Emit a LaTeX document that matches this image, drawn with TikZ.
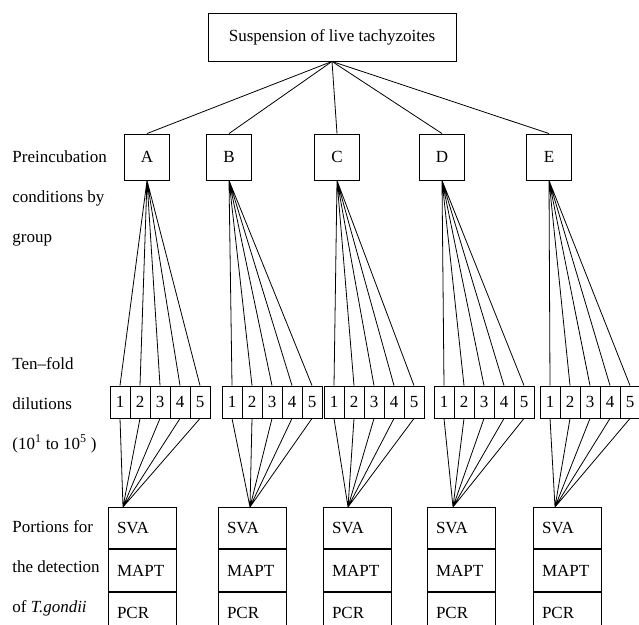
\documentclass[tikz,border=0pt]{standalone}
\usepackage{fontspec}
\setmainfont{Liberation Serif}
\usepackage{tikz}
\usetikzlibrary{positioning}
\tikzstyle{grp}= [draw, line width=0.9pt, inner sep=0pt, minimum width=45pt, minimum height=46pt]
\tikzstyle{cel}= [draw, line width=0.9pt, inner sep=0pt, minimum width=20pt, minimum height=32pt]
\tikzstyle{por}= [draw, line width=0.9pt, inner xsep=9pt, inner ysep=0pt, text width=50pt, minimum height=41.5pt, align=left]
\tikzstyle{lab}= [anchor=west, inner sep=0pt, align=left, font=\fontsize{17}{40}\selectfont]

\begin{document}
\begin{tikzpicture}[x=1pt, y=1pt, line width=0.8pt, font=\fontsize{17}{20}\selectfont]
				\useasboundingbox (0,0) rectangle (639,624);
				\node[draw, line width=0.9pt, minimum width=248pt, minimum height=48pt] (top) at (332, 587) {Suspension of live tachyzoites};
				\node[grp] (gA) at (147, 467) {A};
				\node[grp] (gB) at (229, 467) {B};
				\node[grp] (gC) at (337, 467) {C};
				\node[grp] (gD) at (442, 467) {D};
				\node[grp] (gE) at (549, 467) {E};
				\draw (top.south) -- (gA.north);
				\draw (top.south) -- (gB.north);
				\draw (top.south) -- (gC.north);
				\draw (top.south) -- (gD.north);
				\draw (top.south) -- (gE.north);
				% ten-fold dilutions
				\node[cel] (dA1) at (120, 222) {1};
				\node[cel] (dA2) at (140, 222) {2};
				\node[cel] (dA3) at (160, 222) {3};
				\node[cel] (dA4) at (180, 222) {4};
				\node[cel] (dA5) at (200, 222) {5};
				\node[cel] (dB1) at (232, 222) {1};
				\node[cel] (dB2) at (252, 222) {2};
				\node[cel] (dB3) at (272, 222) {3};
				\node[cel] (dB4) at (292, 222) {4};
				\node[cel] (dB5) at (312, 222) {5};
				\node[cel] (dC1) at (334, 222) {1};
				\node[cel] (dC2) at (354, 222) {2};
				\node[cel] (dC3) at (374, 222) {3};
				\node[cel] (dC4) at (394, 222) {4};
				\node[cel] (dC5) at (414, 222) {5};
				\node[cel] (dD1) at (444, 222) {1};
				\node[cel] (dD2) at (464, 222) {2};
				\node[cel] (dD3) at (484, 222) {3};
				\node[cel] (dD4) at (504, 222) {4};
				\node[cel] (dD5) at (524, 222) {5};
				\node[cel] (dE1) at (550, 222) {1};
				\node[cel] (dE2) at (570, 222) {2};
				\node[cel] (dE3) at (590, 222) {3};
				\node[cel] (dE4) at (610, 222) {4};
				\node[cel] (dE5) at (630, 222) {5};
				\draw (gA.south) -- (dA1.north) (gA.south) -- (dA2.north) (gA.south) -- (dA3.north) (gA.south) -- (dA4.north) (gA.south) -- (dA5.north);
				\draw (gB.south) -- (dB1.north) (gB.south) -- (dB2.north) (gB.south) -- (dB3.north) (gB.south) -- (dB4.north) (gB.south) -- (dB5.north);
				\draw (gC.south) -- (dC1.north) (gC.south) -- (dC2.north) (gC.south) -- (dC3.north) (gC.south) -- (dC4.north) (gC.south) -- (dC5.north);
				\draw (gD.south) -- (dD1.north) (gD.south) -- (dD2.north) (gD.south) -- (dD3.north) (gD.south) -- (dD4.north) (gD.south) -- (dD5.north);
				\draw (gE.south) -- (dE1.north) (gE.south) -- (dE2.north) (gE.south) -- (dE3.north) (gE.south) -- (dE4.north) (gE.south) -- (dE5.north);
				% portions
				\node[por] (pA1) at (142, 96) {SVA};
				\node[por, below=0pt of pA1] (pA2) {MAPT};
				\node[por, below=0pt of pA2] (pA3) {PCR};
				\node[por] (pB1) at (252, 96) {SVA};
				\node[por, below=0pt of pB1] (pB2) {MAPT};
				\node[por, below=0pt of pB2] (pB3) {PCR};
				\node[por] (pC1) at (357, 96) {SVA};
				\node[por, below=0pt of pC1] (pC2) {MAPT};
				\node[por, below=0pt of pC2] (pC3) {PCR};
				\node[por] (pD1) at (461, 96) {SVA};
				\node[por, below=0pt of pD1] (pD2) {MAPT};
				\node[por, below=0pt of pD2] (pD3) {PCR};
				\node[por] (pE1) at (567, 96) {SVA};
				\node[por, below=0pt of pE1] (pE2) {MAPT};
				\node[por, below=0pt of pE2] (pE3) {PCR};
				\coordinate (fA) at (123, 117);
				\coordinate (fB) at (250, 117);
				\coordinate (fC) at (348, 117);
				\coordinate (fD) at (453, 117);
				\coordinate (fE) at (555, 117);
				\draw (dA1.south) -- (fA) (dA2.south) -- (fA) (dA3.south) -- (fA) (dA4.south) -- (fA) (dA5.south) -- (fA);
				\draw (dB1.south) -- (fB) (dB2.south) -- (fB) (dB3.south) -- (fB) (dB4.south) -- (fB) (dB5.south) -- (fB);
				\draw (dC1.south) -- (fC) (dC2.south) -- (fC) (dC3.south) -- (fC) (dC4.south) -- (fC) (dC5.south) -- (fC);
				\draw (dD1.south) -- (fD) (dD2.south) -- (fD) (dD3.south) -- (fD) (dD4.south) -- (fD) (dD5.south) -- (fD);
				\draw (dE1.south) -- (fE) (dE2.south) -- (fE) (dE3.south) -- (fE) (dE4.south) -- (fE) (dE5.south) -- (fE);
				% row labels
				\node[lab] (lgroup) at (12, 426) {Preincubation\\conditions by\\group};
				\node[lab] (ldil) at (12, 219) {Ten--fold\\dilutions\\(10\textsuperscript{1} to 10\textsuperscript{5} )};
				\node[lab] (lpor) at (12, 56) {Portions for\\the detection\\of \textit{T.gondii}};
			\end{tikzpicture}
\end{document}
